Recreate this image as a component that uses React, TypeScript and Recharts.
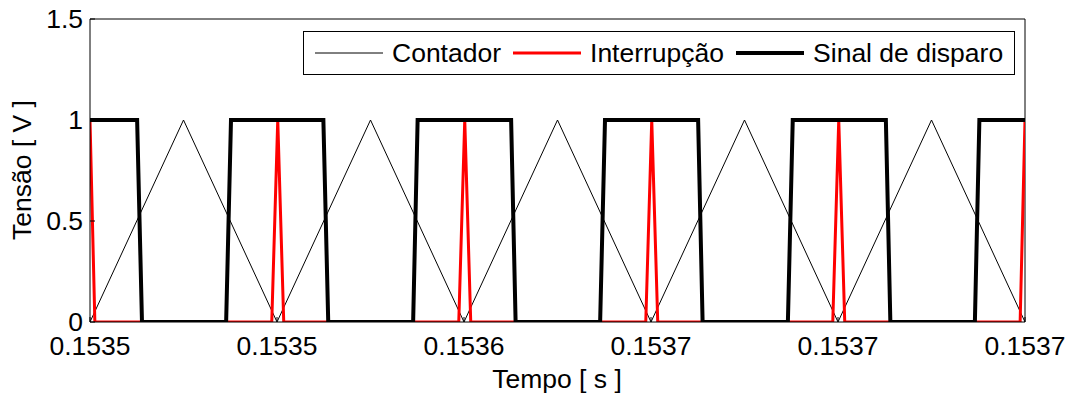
import React from 'react';
import { LineChart, Line, XAxis, YAxis, Legend, ReferenceLine } from 'recharts';

// time axis in microseconds after 0.15350 s
const xTicks = [0, 50, 100, 150, 200, 250];
const xTickLabels = ['0.1535', '0.1535', '0.1536', '0.1537', '0.1537', '0.1537'];
const yTicks = [0, 0.5, 1, 1.5];

// Contador (triangular carrier)
const contadorT = [0, 25, 50, 75, 100, 125, 150, 175, 200, 225, 250];
const contadorV = [0, 1, 0, 1, 0, 1, 0, 1, 0, 1, 0];

// Interrupção (spikes at the carrier valleys)
const interrupcaoT = [0, 1.3, 48.6, 50.2, 51.8, 98.6, 100.2, 101.8, 148.6, 150.2, 151.8, 198.6, 200.2, 201.8, 248.7, 250];
const interrupcaoV = [1, 0, 0, 1, 0, 0, 1, 0, 0, 1, 0, 0, 1, 0, 0, 1];

// Sinal de disparo (gate signal)
const disparoT = [0, 12.6, 13.9, 36.4, 37.7, 62.4, 63.7, 86.4, 87.6, 112.6, 113.8, 136.4, 137.7, 162.6, 163.8, 186.6, 187.9, 212.8, 214, 236.6, 237.8, 250];
const disparoV = [1, 1, 0, 0, 1, 1, 0, 0, 1, 1, 0, 0, 1, 1, 0, 0, 1, 1, 0, 0, 1, 1];

const seriesNames = ['Contador', 'Interrupção', 'Sinal de disparo'];
const seriesColors = ['#000000', '#ff0000', '#000000'];
const seriesWidths = [1, 3, 4];

const toPoints = (t: number[], v: number[]) => t.map((x, i) => ({ t: x, v: v[i] }));

const FONT = '"Liberation Sans", Arial, sans-serif';
const FS = 26.5;

function LegendBox() {
  return (
    <div
      style={{
        border: '1px solid #000',
        background: '#fff',
        height: 42,
        width: 710,
        display: 'flex',
        alignItems: 'center',
        fontFamily: FONT,
        fontSize: FS,
        color: '#000',
        boxSizing: 'content-box',
        whiteSpace: 'nowrap',
      }}
    >
      {seriesNames.map((name, i) => (
        <div key={name} style={{ display: 'flex', alignItems: 'center', marginLeft: i === 0 ? 11 : 12 }}>
          <svg width={68} height={10} style={{ marginRight: 9 }}>
            <line x1={0} y1={5} x2={68} y2={5} stroke={seriesColors[i]} strokeWidth={seriesWidths[i]} />
          </svg>
          <span>{name}</span>
        </div>
      ))}
    </div>
  );
}

export default function App() {
  return (
    <div style={{ position: 'absolute', left: 0, top: 0, background: '#fff' }}>
      <LineChart width={1075} height={394} margin={{ top: 19, right: 50, left: 0, bottom: 0 }} style={{ fontFamily: FONT }}>
        <XAxis
          dataKey="t"
          type="number"
          domain={[0, 250]}
          ticks={xTicks}
          tickFormatter={(_v: number, i: number) => xTickLabels[i]}
          height={72}
          tickSize={-5}
          tickMargin={19}
          axisLine={{ stroke: '#000' }}
          tickLine={{ stroke: '#000' }}
          tick={{ fill: '#000', fontSize: FS }}
          interval={0}
          allowDataOverflow
          label={{
            content: () => (
              <text x={557} y={388} textAnchor="middle" fontSize={FS} fill="#000" fontFamily={FONT}>
                Tempo [ s ]
              </text>
            ),
          }}
        />
        <YAxis
          type="number"
          domain={[0, 1.5]}
          ticks={yTicks}
          width={90}
          tickSize={-5}
          tickMargin={12}
          axisLine={{ stroke: '#000' }}
          tickLine={{ stroke: '#000' }}
          tick={{ fill: '#000', fontSize: FS }}
          interval={0}
          allowDataOverflow
          label={{
            content: () => (
              <text
                x={31}
                y={170}
                textAnchor="middle"
                fontSize={FS}
                fill="#000"
                fontFamily={FONT}
                transform="rotate(-90, 31, 170)"
              >
                Tensão [ V ]
              </text>
            ),
          }}
        />
        <ReferenceLine y={1.5} stroke="#000" strokeWidth={1} />
        <ReferenceLine x={250} stroke="#000" strokeWidth={1} />
        <Legend
          verticalAlign="middle"
          layout="horizontal"
          content={() => <LegendBox />}
          wrapperStyle={{ position: 'absolute', left: 303, top: 31, width: 'auto', height: 'auto' }}
        />
        <Line
          data={toPoints(contadorT, contadorV)}
          dataKey="v"
          name={seriesNames[0]}
          stroke={seriesColors[0]}
          strokeWidth={seriesWidths[0]}
          dot={false}
          type="linear"
          isAnimationActive={false}
        />
        <Line
          data={toPoints(interrupcaoT, interrupcaoV)}
          dataKey="v"
          name={seriesNames[1]}
          stroke={seriesColors[1]}
          strokeWidth={seriesWidths[1]}
          dot={false}
          type="linear"
          isAnimationActive={false}
        />
        <Line
          data={toPoints(disparoT, disparoV)}
          dataKey="v"
          name={seriesNames[2]}
          stroke={seriesColors[2]}
          strokeWidth={seriesWidths[2]}
          dot={false}
          type="linear"
          isAnimationActive={false}
        />
      </LineChart>
    </div>
  );
}
